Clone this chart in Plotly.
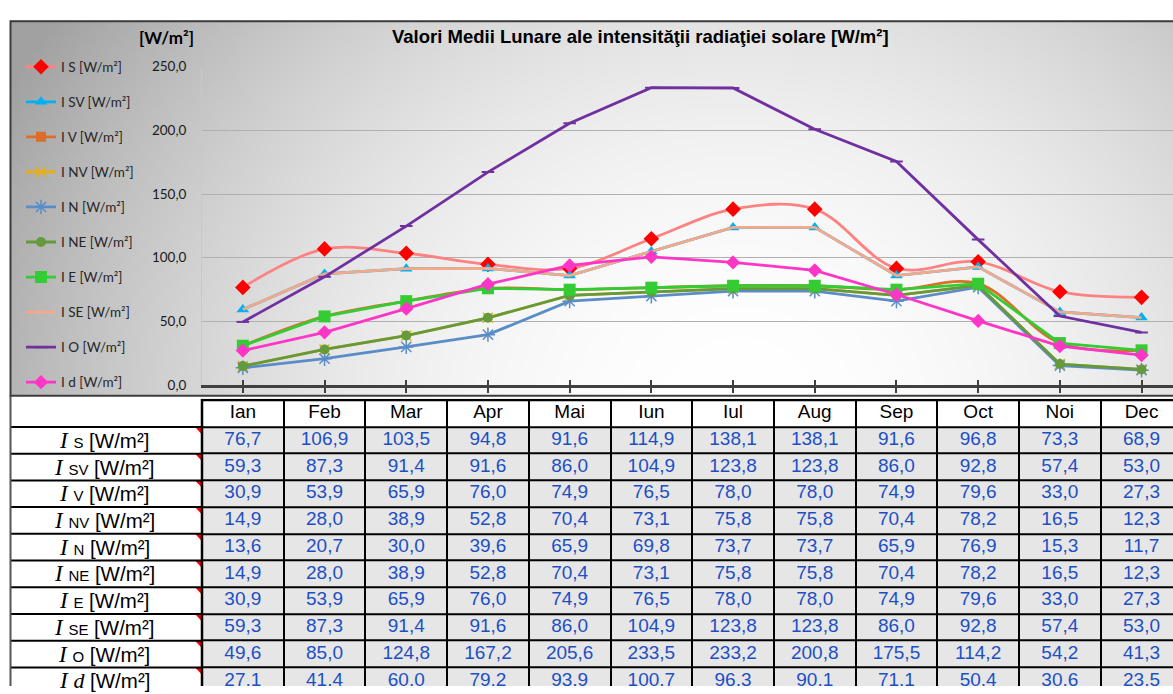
import base64
import struct
import zlib

import numpy as np
import plotly.graph_objects as go

# ---------------------------------------------------------------- data
months = ["Ian", "Feb", "Mar", "Apr", "Mai", "Iun", "Iul", "Aug", "Sep", "Oct", "Noi", "Dec"]

i_s = [76.7, 106.9, 103.5, 94.8, 91.6, 114.9, 138.1, 138.1, 91.6, 96.8, 73.3, 68.9]
i_sv = [59.3, 87.3, 91.4, 91.6, 86.0, 104.9, 123.8, 123.8, 86.0, 92.8, 57.4, 53.0]
i_v = [30.9, 53.9, 65.9, 76.0, 74.9, 76.5, 78.0, 78.0, 74.9, 79.6, 33.0, 27.3]
i_nv = [14.9, 28.0, 38.9, 52.8, 70.4, 73.1, 75.8, 75.8, 70.4, 78.2, 16.5, 12.3]
i_n = [13.6, 20.7, 30.0, 39.6, 65.9, 69.8, 73.7, 73.7, 65.9, 76.9, 15.3, 11.7]
i_ne = [14.9, 28.0, 38.9, 52.8, 70.4, 73.1, 75.8, 75.8, 70.4, 78.2, 16.5, 12.3]
i_e = [30.9, 53.9, 65.9, 76.0, 74.9, 76.5, 78.0, 78.0, 74.9, 79.6, 33.0, 27.3]
i_se = [59.3, 87.3, 91.4, 91.6, 86.0, 104.9, 123.8, 123.8, 86.0, 92.8, 57.4, 53.0]
i_o = [49.6, 85.0, 124.8, 167.2, 205.6, 233.5, 233.2, 200.8, 175.5, 114.2, 54.2, 41.3]
i_d = [27.1, 41.4, 60.0, 79.2, 93.9, 100.7, 96.3, 90.1, 71.1, 50.4, 30.6, 23.5]

orientations = ["S", "SV", "V", "NV", "N", "NE", "E", "SE", "O", "d"]
series = [i_s, i_sv, i_v, i_nv, i_n, i_ne, i_e, i_se, i_o, i_d]

title_text = "Valori Medii Lunare ale intensităţii radiaţiei solare [W/m²]"
unit_text = "[W/m²]"

# ---------------------------------------------------------------- styles
styles = {
    "S": dict(line="#FF8282", shape="spline", marker="diamond", msize=12, mcolor="#FF0000"),
    "SV": dict(line="#00B0F0", shape="linear", marker="triangle-up", msize=11, mcolor="#00B0F0"),
    "V": dict(line="#DC6E2A", shape="spline", marker="square", msize=10, mcolor="#DC6E2A"),
    "NV": dict(line="#E8B00C", shape="linear", marker="x-thin-open", msize=10, mcolor="#E8B00C"),
    "N": dict(line="#5A8DC8", shape="linear", marker="asterisk-open", msize=12, mcolor="#5A8DC8"),
    "NE": dict(line="#64993C", shape="linear", marker="circle", msize=10, mcolor="#64993C"),
    "E": dict(line="#33CC33", shape="linear", marker="square", msize=12, mcolor="#33CC33"),
    "SE": dict(line="#F5A98A", shape="linear", marker=None, msize=0, mcolor="#F5A98A"),
    "O": dict(line="#7030A0", shape="linear", marker="line-ew-open", msize=9, mcolor="#7030A0"),
    "d": dict(line="#FF35C8", shape="linear", marker="diamond", msize=11, mcolor="#FF35C8"),
}

W, H = 1173, 694
PLOT_L, PLOT_T, PLOT_B = 202, 60, 386
COL_W = 81.7
TBL_TOP, ROW_H = 400, 27.35
X_RANGE = [-0.5, -0.5 + (W - PLOT_L) / COL_W]
Y2_TOP = -0.5 - 1.5 / ROW_H
Y2_RANGE = [Y2_TOP + (H - TBL_TOP) / ROW_H, Y2_TOP]


def px(x):
    return x / W


def py(y):
    return 1 - y / H


def fmt(v):
    return f"{v:.1f}".replace(".", ",")


# ---------------------------------------------------------------- background gradient
def gradient_png(w, h):
    xs = 10 + (np.arange(w) + 0.5) * (1168 / w)
    ys = 13 + (np.arange(h) + 0.5) * (384 / h)
    gx, gy = np.meshgrid(xs, ys)
    dx = (gx - 740) / 720
    dy = (gy - 410) / 640
    r2 = np.clip(dx * dx + dy * dy, 0, 1.3)
    v = np.clip(255 - 72 * r2, 0, 255).astype(np.uint8)
    rgb = np.stack([v, v, v], axis=-1)
    raw = b"".join(b"\x00" + rgb[j].tobytes() for j in range(h))

    def chunk(tag, data):
        return (struct.pack(">I", len(data)) + tag + data
                + struct.pack(">I", zlib.crc32(tag + data) & 0xFFFFFFFF))

    png = (b"\x89PNG\r\n\x1a\n"
           + chunk(b"IHDR", struct.pack(">IIBBBBB", w, h, 8, 2, 0, 0, 0))
           + chunk(b"IDAT", zlib.compress(raw, 9))
           + chunk(b"IEND", b""))
    return "data:image/png;base64," + base64.b64encode(png).decode()


fig = go.Figure()

# ---------------------------------------------------------------- chart lines
for key, vals in zip(orientations, series):
    st = styles[key]
    name = f"I {key} [W/m²]"
    marker = dict(size=st["msize"], color=st["mcolor"])
    if st["marker"]:
        marker["symbol"] = st["marker"]
        if st["marker"].endswith("-open"):
            marker["line"] = dict(color=st["mcolor"], width=2 if key == "O" else 1.5)
    fig.add_trace(go.Scatter(
        x=months, y=vals, name=name, legendgroup=name,
        mode="lines+markers" if st["marker"] else "lines",
        line=dict(color=st["line"], width=2.8, shape=st["shape"], smoothing=1.0),
        marker=marker,
        xaxis="x", yaxis="y", hoverinfo="x+y+name",
    ))

# invisible carrier for the inner half of the cross tick marks
fig.add_trace(go.Scatter(x=months, y=[0] * 12, mode="markers", marker=dict(opacity=0),
                         xaxis="x3", yaxis="y", showlegend=False, hoverinfo="skip"))

# ---------------------------------------------------------------- table
n_rows = len(orientations) + 1
z = [[0] * 12] + [[1] * 12 for _ in orientations]
fig.add_trace(go.Heatmap(
    x=months, y=list(range(n_rows)), z=z,
    colorscale=[[0, "#FFFFFF"], [1, "#E6E6E6"]], zmin=0, zmax=1,
    showscale=False, xgap=2, ygap=2, hoverinfo="skip",
    xaxis="x2", yaxis="y2",
))

fig.add_trace(go.Scatter(
    x=months, y=[0] * 12, mode="text", text=months,
    textfont=dict(family="Liberation Sans, Arial", size=19, color="#000000"),
    xaxis="x2", yaxis="y2", showlegend=False, hoverinfo="skip",
))
for r, vals in enumerate(series, start=1):
    fig.add_trace(go.Scatter(
        x=months, y=[r] * 12, mode="text", text=[fmt(v) for v in vals],
        textfont=dict(family="Liberation Sans, Arial", size=19, color="#1D4FC4"),
        xaxis="x2", yaxis="y2", showlegend=False, hoverinfo="skip",
    ))

shapes = []
annotations = []

# black grid under the table cells
shapes.append(dict(type="rect", xref="x2", yref="y2", x0=-0.5, x1=11.5, y0=Y2_TOP, y1=n_rows - 0.5 + 0.1,
                   fillcolor="#000000", line=dict(width=0), layer="below"))

# row labels column
for r, key in enumerate(orientations, start=1):
    if key == "d":
        sub = "<span style='font-family:Liberation Serif;font-style:italic;font-size:22px'>d</span>"
    else:
        sub = f"<span style='font-size:15px'>{key}</span>"
    label = ("<span style='font-family:Liberation Serif;font-style:italic;font-size:23px'>I</span> "
             + sub + " [W/m²]")
    annotations.append(dict(xref="paper", yref="y2", x=px(104), y=r, text=label, showarrow=False,
                            xanchor="center", yanchor="middle",
                            font=dict(family="Liberation Sans, Arial", size=20.5, color="#000000")))
    # comment marker in the top-right corner of the label cell
    yt = r - 0.5
    shapes.append(dict(type="path", xref="paper", yref="y2",
                       path=f"M{px(195)},{yt} L{px(201)},{yt} L{px(201)},{yt + 0.24} Z",
                       fillcolor="#FF0000", line=dict(width=0)))

for r in range(n_rows):
    yb = r + 0.5
    shapes.append(dict(type="line", xref="paper", yref="y2", x0=px(10), x1=px(202), y0=yb, y1=yb,
                       line=dict(color="#000000", width=2)))
shapes.append(dict(type="line", xref="paper", yref="y2", x0=px(202), x1=px(202),
                   y0=Y2_TOP, y1=n_rows + 0.5, line=dict(color="#000000", width=2.5)))
shapes.append(dict(type="line", xref="paper", yref="paper", x0=px(10.5), x1=px(10.5),
                   y0=py(397), y1=0, line=dict(color="#555555", width=2)))

# chart frame
shapes.append(dict(type="rect", xref="paper", yref="paper", x0=px(10.5), x1=px(W + 10),
                   y0=py(397), y1=py(13.5), line=dict(color="#3C3C3C", width=2),
                   fillcolor="rgba(0,0,0,0)", layer="above"))

annotations.append(dict(xref="paper", yref="paper", x=px(640), y=py(29), text=f"<b>{title_text}</b>",
                        showarrow=False, xanchor="center", yanchor="middle",
                        font=dict(family="Liberation Sans, Arial", size=18.5, color="#000000")))
annotations.append(dict(xref="paper", yref="paper", x=px(196), y=py(30), text=f"<b>{unit_text}</b>",
                        showarrow=False, xanchor="right", yanchor="middle",
                        font=dict(family="Lato, Noto Sans", size=17, color="#000000")))

axis_common = dict(type="category", categoryorder="array", categoryarray=months,
                   range=X_RANGE, domain=[px(PLOT_L), 1], fixedrange=True)

fig.update_layout(
    width=W, height=H, autosize=False,
    margin=dict(l=0, r=0, t=0, b=0, pad=0),
    paper_bgcolor="#FFFFFF", plot_bgcolor="rgba(0,0,0,0)",
    separators=", ",
    showlegend=True,
    legend=dict(x=px(21), y=py(44.5), xanchor="left", yanchor="top",
                bgcolor="rgba(0,0,0,0)", borderwidth=0, tracegroupgap=14.5, itemwidth=30,
                font=dict(family="Lato, Noto Sans", size=13.5, color="#262626")),
    xaxis=dict(**axis_common, anchor="y", showticklabels=False, ticks="outside", ticklen=5,
               tickwidth=2, tickcolor="#404040", showline=True, linecolor="#404040", linewidth=2.5,
               showgrid=False, zeroline=False),
    xaxis3=dict(**axis_common, anchor="y", overlaying="x", showticklabels=False, ticks="inside",
                ticklen=5, tickwidth=2, tickcolor="#404040", showline=False, showgrid=False,
                zeroline=False),
    yaxis=dict(domain=[py(PLOT_B), py(PLOT_T)], range=[0, 250], dtick=50, tickformat=".1f",
               anchor="x", showgrid=True, gridcolor="#B0B0B0", gridwidth=1, zeroline=False,
               showline=True, linecolor="#C8C8C8", linewidth=1, ticks="", ticklabelstandoff=12,
               tickfont=dict(family="Lato, Noto Sans", size=13.5, color="#1A1A1A"), fixedrange=True),
    xaxis2=dict(**axis_common, anchor="y2", visible=False),
    yaxis2=dict(domain=[0, py(TBL_TOP)], range=Y2_RANGE, anchor="x2", visible=False, fixedrange=True),
    images=[dict(source=gradient_png(292, 96), xref="paper", yref="paper", x=px(10), y=py(13),
                 sizex=px(1168), sizey=384 / H, sizing="stretch", xanchor="left", yanchor="top",
                 layer="below")],
    shapes=shapes,
    annotations=annotations,
)

fig.write_html("out.html")
